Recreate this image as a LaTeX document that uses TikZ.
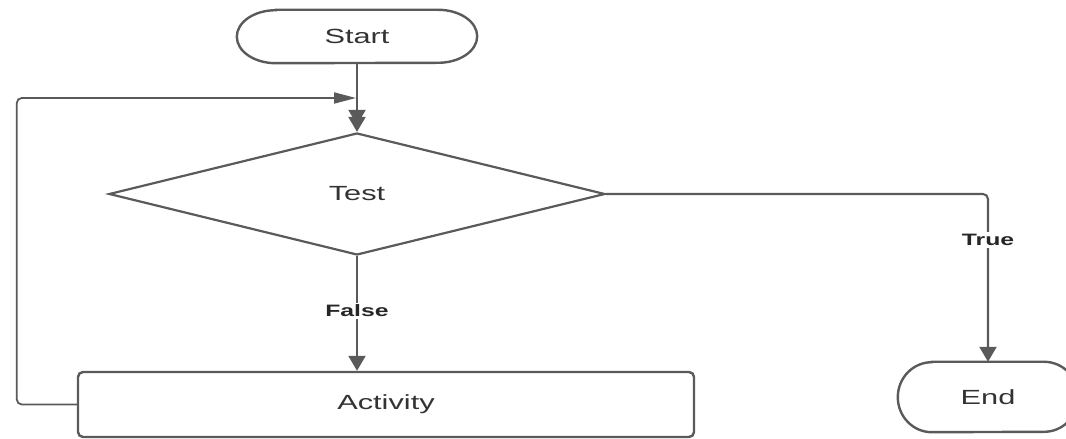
\documentclass[tikz,border=0pt]{standalone}
\usepackage{fontspec}
\newfontfamily\flowfont[FakeStretch=1.5]{Liberation Sans}
\usetikzlibrary{arrows.meta,shapes.geometric}
\definecolor{linegray}{HTML}{5A5A5A}
\definecolor{textgray}{HTML}{333333}

% outline of a terminal node: straight top and bottom, elliptic ends
\newcommand\terminaloutline[3]{%
  \draw[shape line] ([xshift=#2]#1.north west) -- ([xshift=-#2]#1.north east)
    arc[start angle=90, end angle=-90, x radius=#2, y radius=#3]
    -- ([xshift=#2]#1.south west)
    arc[start angle=270, end angle=90, x radius=#2, y radius=#3] -- cycle;}

\begin{document}
\begin{tikzpicture}[x=1pt,y=1pt,
  shape line/.style={draw=linegray, line width=2.4pt},
  label text/.style={text=textgray, font=\flowfont\fontsize{20.5}{23}\selectfont},
  terminal/.style={label text, inner sep=0pt, minimum height=53pt, minimum width=240pt},
  decision/.style={diamond, shape line, line width=2.2pt, label text, inner sep=0pt,
    minimum width=496pt, minimum height=122pt},
  process/.style={rectangle, rounded corners=5pt, shape line, label text,
    inner sep=0pt, minimum width=616pt, minimum height=65pt},
  flow/.style={draw=linegray, line width=2.1pt, rounded corners=5pt},
  downtip/.style={-{Triangle[length=15pt,width=17pt]}},
  edge label/.style={fill=white, text=black!85, inner sep=2pt,
    font=\flowfont\bfseries\fontsize{16.5}{18}\selectfont}
]
\useasboundingbox (0,0) rectangle (1066,439);
\clip (0,0) rectangle (1066,439);

% nodes
\node[terminal] (start) at (357,402.5) {Start};
\terminaloutline{start}{39pt}{26.5pt}
\node[decision] (test) at (357,245) {Test};
\node[process] (act) at (386,34.5) {Activity};
\node[terminal, minimum width=180pt, minimum height=70pt] (end) at (988,42) {End};
\terminaloutline{end}{34pt}{35pt}

% connectors
\coordinate (loopin) at (356,341);
\draw[flow, -{Triangle[length=15pt,width=17pt,sep=-8pt]Triangle[length=15pt,width=17pt]}]
  (start.south) -- (start.south |- test.north);
\draw[flow, line width=1.8pt, -{Triangle[length=22pt,width=11pt]}]
  (act.west) -- ++(-60,0) |- (loopin);
\draw[flow, downtip] (test.south) -- (test.south |- act.north);
\draw[flow, downtip] (test.east) -| (end.north);

% branch labels
\node[edge label] (falselbl) at (357,128) {False};
\node[edge label] (truelbl) at (988,199) {True};
\end{tikzpicture}
\end{document}
